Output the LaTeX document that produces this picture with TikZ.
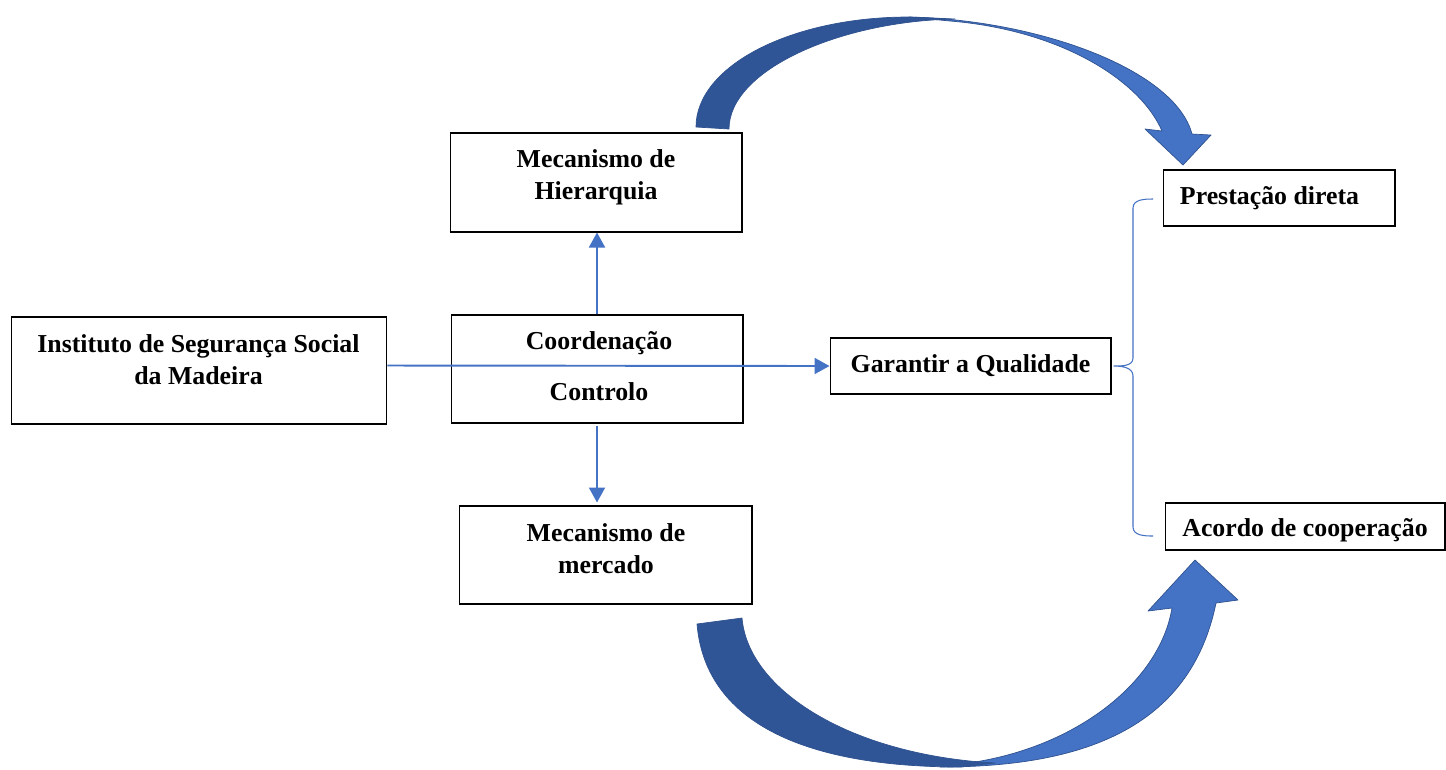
\documentclass[tikz,border=0pt]{standalone}
\usepackage{fontspec}
\setmainfont{Liberation Serif}
\usepackage{tikz}
\usetikzlibrary{arrows.meta, positioning}

\definecolor{qblue}{HTML}{4472C4}
\definecolor{qdark}{HTML}{2F5597}
\definecolor{qedge}{HTML}{2F528F}

\begin{document}
\begin{tikzpicture}[
        x=0.02cm, y=-0.02cm,
        block/.style={draw, line width=0.6pt, inner sep=0pt},
        boxtext/.style={font=\fontsize{14.7}{18.1}\selectfont\bfseries, align=center, inner sep=0pt},
        link/.style={draw=qblue, line width=1.1pt, -{Triangle[length=0.3cm, width=0.32cm]}},
        curvearrow/.style={draw=qedge, line width=0.4pt, line join=round},
    ]
    \useasboundingbox (0,0) rectangle (1446,769);

    \node[block, minimum width=7.52cm, minimum height=2.14cm] (inst) at (199,370.5) {};
    \node[boxtext] (insttext) at (198.5,360) {Instituto de Segurança Social\\da Madeira};

    \node[block, minimum width=5.84cm, minimum height=1.98cm] (hier) at (596,182.5) {};
    \node[boxtext] (hiertext) at (596,177.5) {Mecanismo de\\Hierarquia};

    \node[block, minimum width=5.84cm, minimum height=2.16cm] (coord) at (597,369) {};
    \node[boxtext] (coordtext) at (599,366) {Coordenação\\[10.8pt]Controlo};

    \node[block, minimum width=5.86cm, minimum height=1.96cm] (merc) at (605.5,555) {};
    \node[boxtext] (merctext) at (606,549) {Mecanismo de\\mercado};

    \node[block, minimum width=5.62cm, minimum height=1.12cm] (qual) at (970.5,366) {};
    \node[boxtext] (qualtext) at (970.5,365.5) {Garantir a Qualidade};

    \node[block, minimum width=4.64cm, minimum height=1.12cm] (prest) at (1279,198) {};
    \node[boxtext] (presttext) at (1269.5,198) {Prestação direta};

    \node[block, minimum width=5.60cm, minimum height=0.94cm] (acordo) at (1305,526.5) {};
    \node[boxtext] (acordotext) at (1305,530) {Acordo de cooperação};

    \draw[link] ([yshift=0.1cm]inst.east) -- (qual.west);
    \draw[link] (coord.north) -- (coord.north |- hier.south);
    \draw[link] ([yshift=-0.04cm]coord.south) -- ([yshift=0.06cm]coord.south |- merc.north);

    \coordinate (bracetip) at ([xshift=0.04cm]qual.east);
    \coordinate (bracetop) at (1153,199);
    \coordinate (bracebot) at (1153,536);
    \draw[qblue, line width=0.6pt] (bracetop) to[out=180, in=90] (1133,208) -- (1133,358)
        to[out=270, in=0] (bracetip) to[out=0, in=90] (1133,376) -- (1133,527)
        to[out=270, in=180] (bracebot);

    \filldraw[fill=qblue, curvearrow] (909,17) .. controls (1040,20) and (1175,70) .. (1192,134)
        -- (1211,135) -- (1183,165) -- (1145,129) -- (1162,131)
        .. controls (1140,80) and (1060,30) .. (950,21) -- cycle;
    \filldraw[fill=qdark, curvearrow] (696,127) .. controls (696,66) and (791,17) .. (909,17)
        -- (955,19) .. controls (840,21) and (729,70) .. (729,129) -- cycle;

    \filldraw[fill=qblue, curvearrow] (940,767) .. controls (1080,767) and (1190,730) .. (1216,603)
        -- (1238,600) -- (1195,560) -- (1148,611) -- (1172,608)
        .. controls (1160,680) and (1080,745) .. (975,762) -- cycle;
    \filldraw[fill=qdark, curvearrow] (697,624) .. controls (705,720) and (800,767) .. (961,767)
        -- (995,763) .. controls (850,755) and (748,690) .. (742,618) -- cycle;
\end{tikzpicture}
\end{document}
